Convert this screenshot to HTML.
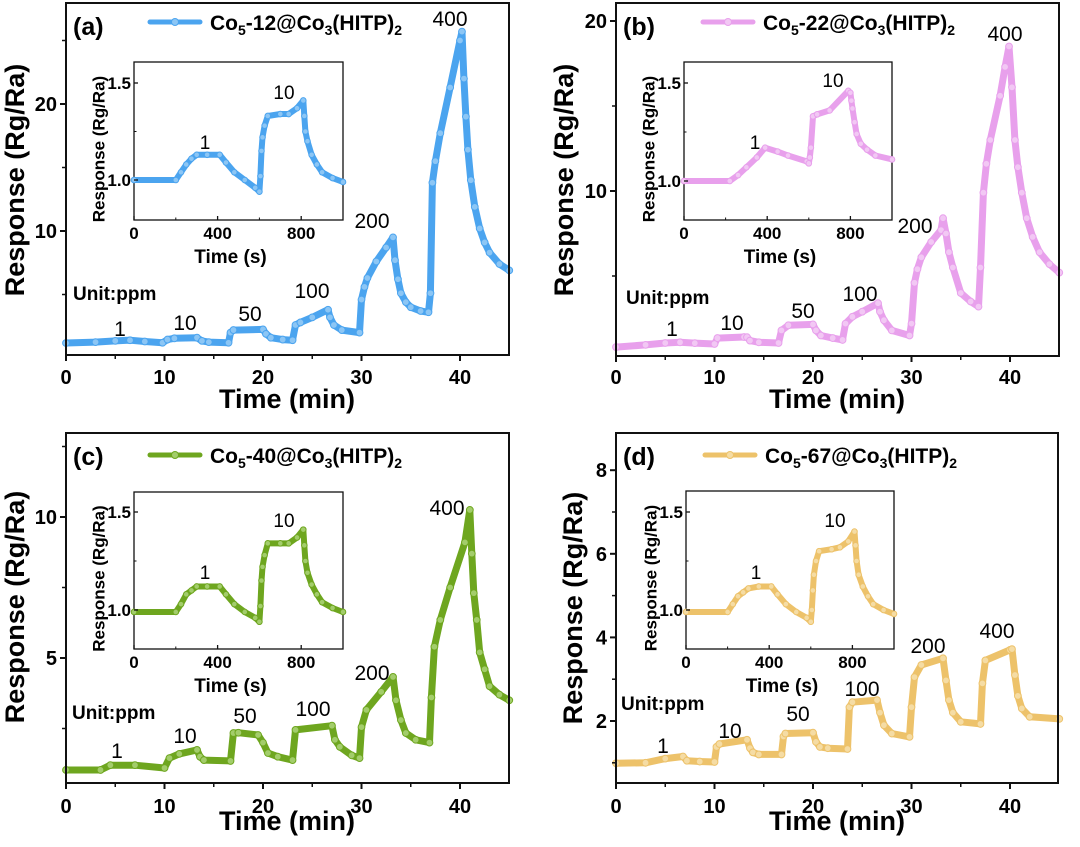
<!DOCTYPE html>
<html><head><meta charset="utf-8">
<style>
html,body{margin:0;padding:0;background:#fff;}
svg{display:block;font-family:"Liberation Sans",Arial,sans-serif;}
.b{font-weight:bold;}
</style></head>
<body>
<svg id="fig" width="1080" height="847" viewBox="0 0 1080 847" xmlns="http://www.w3.org/2000/svg"></svg>
<script>
// ===== Panel (a) data =====
const timeA = [0,3,5,6.5,8,9.8,10.3,11,13.3,13.8,14.5,16.5,16.7,17,20,20.3,20.8,22,23,23.3,23.8,25,26.6,26.8,27.2,28,29.8,30,30.3,30.6,31.5,32.5,33.2,33.4,33.7,34,34.5,35,36,36.8,37,37.2,37.5,38,39,40,40.2,40.4,40.6,40.8,41.1,41.5,42,42.5,43,44,45];
const respA = [1.18,1.25,1.35,1.4,1.3,1.2,1.45,1.55,1.6,1.35,1.25,1.2,2.0,2.2,2.25,1.9,1.6,1.45,1.4,2.6,2.8,3.2,3.8,3.2,2.6,2.2,2.0,4.6,5.6,6.3,7.6,8.7,9.5,7.7,6.2,5.1,4.4,4.0,3.7,3.6,5.1,13.8,15.5,17.7,21.3,25,25.7,22,19,16.4,14,11.9,10.2,9.1,8.3,7.4,6.9];
const insetTimeA = [0,200,225,250,275,300,350,410,440,480,530,580,600,605,610,615,625,640,700,740,780,810,815,820,830,850,875,900,950,1000];
const insetRespA = [1.0,1.0,1.04,1.08,1.11,1.13,1.13,1.13,1.09,1.04,1.0,0.96,0.94,1.02,1.15,1.22,1.28,1.33,1.34,1.34,1.37,1.41,1.33,1.25,1.2,1.13,1.08,1.04,1.01,0.99];
// ===== Panel (b) data =====
const timeB = [0,3,5,6.5,8,10,10.3,13,13.3,13.6,14.5,16.5,16.8,17.5,20,20.3,20.8,22,23,23.3,24,25,26.6,26.8,27.2,28,29.8,30,30.3,30.6,31,32,33,33.2,33.5,33.8,34.2,35,36,36.8,37,37.3,37.6,38,39,39.5,39.9,40.2,40.5,40.8,41.2,41.7,42.3,43,44,45];
const respB = [0.82,0.95,1.06,1.1,1.05,1.0,1.35,1.41,1.4,1.2,1.1,1.06,1.8,2.1,2.15,1.8,1.5,1.35,1.24,2.2,2.6,2.9,3.4,2.9,2.4,1.8,1.5,2.2,4.6,5.4,6.1,7.0,7.7,8.4,7.5,6.4,5.5,4.0,3.5,3.2,5.5,9.9,11.6,13,15.6,17.3,18.5,16.1,13,11.4,9.9,8.4,7.3,6.4,5.7,5.2];
const insetTimeB = [0,220,260,300,350,390,450,500,590,600,605,610,620,640,700,790,800,805,810,820,830,850,880,920,1000];
const insetRespB = [1.0,1.0,1.03,1.07,1.12,1.17,1.15,1.13,1.1,1.09,1.12,1.17,1.33,1.34,1.36,1.46,1.45,1.41,1.37,1.3,1.24,1.19,1.16,1.13,1.11];
// ===== Panel (c) data =====
const timeC = [0,3.5,4.5,7,10,10.5,11.5,13.3,13.6,14,16.7,17,17.5,19.5,20,20.5,21.5,23,23.3,27,27.3,27.8,29,29.8,30,30.5,32,33.2,33.5,34,34.5,35.5,36.9,37.1,37.4,38,39,40.5,41,41.2,41.4,41.7,42,42.5,43,44,45];
const respC = [1.03,1.03,1.2,1.2,1.1,1.45,1.6,1.74,1.5,1.38,1.35,2.34,2.35,2.27,2.0,1.63,1.5,1.38,2.45,2.6,2.1,1.85,1.55,1.45,2.55,3.16,3.8,4.33,3.5,2.8,2.34,2.1,2.0,3.6,5.4,6.35,7.5,9.1,10.25,8.7,7.3,6.35,5.2,4.6,4.0,3.7,3.5];
const insetTimeC = [0,200,225,250,275,300,350,410,440,480,530,580,600,605,610,615,625,640,700,740,780,810,815,820,830,850,875,900,950,1000];
const insetRespC = [0.99,0.99,1.03,1.08,1.1,1.12,1.12,1.12,1.08,1.03,0.99,0.96,0.94,1.02,1.15,1.22,1.28,1.34,1.34,1.34,1.37,1.41,1.33,1.25,1.19,1.13,1.08,1.04,1.01,0.99];
// ===== Panel (d) data =====
const timeD = [0,3,5,6.8,7.2,8.5,10,10.2,10.5,13.3,13.6,13.9,14.5,16.8,17,17.2,20,20.3,20.7,21.5,23.5,23.7,24,26.5,26.8,27.2,28,29.8,30,30.3,31,33.2,33.5,33.8,34.2,35,37,37.2,37.5,40,40.2,40.5,40.8,41.2,42,45];
const respD = [0.99,1.0,1.1,1.15,1.05,1.03,1.02,1.38,1.45,1.55,1.35,1.25,1.2,1.2,1.63,1.7,1.72,1.5,1.38,1.35,1.33,2.33,2.45,2.5,2.2,1.9,1.7,1.62,2.33,3.05,3.34,3.5,2.97,2.5,2.2,1.98,1.93,2.9,3.45,3.7,3.72,3.1,2.6,2.3,2.1,2.05];
const insetTimeD = [0,200,225,250,275,300,350,410,440,480,530,580,600,605,610,615,625,640,700,740,780,810,815,820,830,850,875,900,950,1000];
const insetRespD = [0.99,0.99,1.03,1.07,1.09,1.11,1.12,1.12,1.08,1.03,0.99,0.96,0.94,1.0,1.1,1.18,1.25,1.3,1.31,1.32,1.35,1.4,1.33,1.25,1.18,1.12,1.07,1.03,1.0,0.98];
// ===== Labels =====
const concLabels = ["1","10","50","100","200","400"];
const insetLabels = ["1","10"];
const mainXTicks = [0,10,20,30,40];
const insetXTicks = [0,400,800];
const insetYTicks = [1.0,1.5];

const NS = "http://www.w3.org/2000/svg";
const svg = document.getElementById("fig");
function el(tag, attrs, parent, text){
  const e = document.createElementNS(NS, tag);
  for (const k in attrs) e.setAttribute(k, attrs[k]);
  if (text !== undefined) e.textContent = text;
  (parent||svg).appendChild(e);
  return e;
}

const panels = [
  {id:"a", color:"#4ba4ef", light:"#8cc6f5", name:"12", t:timeA, r:respA, it:insetTimeA, ir:insetRespA,
   L:66,R:509,T:3,B:355, x0:66,xk:9.85, yv0:358, yk:12.7, yTicks:[10,20], yMinor:[5,15,25],
   ins:{L:134,R:343,T:62,B:220, y1:180, yk:194},
   conc:[[120,328],[185,322],[250,313],[312,290],[372,220],[450,18]],
   iconc:[[205,142],[284,92]], unit:[73,300], leg:[150,22],
   yTitle:[17,180], xTitle:[287,398], tickY:377},
  {id:"b", color:"#e8a0ec", light:"#f2c8f4", name:"22", t:timeB, r:respB, it:insetTimeB, ir:insetRespB,
   L:616,R:1059,T:3,B:356, x0:616,xk:9.85, yv0:361, yk:17, yTicks:[10,20], yMinor:[5,15],
   ins:{L:684,R:892,T:62,B:220, y1:181, yk:196},
   conc:[[672,328],[732,322],[803,310],[860,293],[915,225],[1005,33]],
   iconc:[[755,142],[833,80]], unit:[626,304], leg:[703,22],
   yTitle:[566,180], xTitle:[837,398], tickY:377},
  {id:"c", color:"#6ea61f", light:"#a3cd6b", name:"40", t:timeC, r:respC, it:insetTimeC, ir:insetRespC,
   L:66,R:509,T:433,B:783, x0:66,xk:9.85, yv0:799, yk:28.2, yTicks:[5,10], yMinor:[2.5,7.5,12.5],
   ins:{L:134,R:343,T:492,B:649, y1:610, yk:196},
   conc:[[117,750],[185,735],[245,715],[313,708],[372,672],[447,507]],
   iconc:[[205,572],[284,520]], unit:[72,719], leg:[150,455],
   yTitle:[17,607], xTitle:[287,820], tickY:806},
  {id:"d", color:"#edc26a", light:"#f5dca4", name:"67", t:timeD, r:respD, it:insetTimeD, ir:insetRespD,
   L:616,R:1058,T:433,B:783, x0:616,xk:9.85, yv0:804.6, yk:41.8, yTicks:[2,4,6,8], yMinor:[1,3,5,7],
   ins:{L:686,R:894,T:491,B:649, y1:610, yk:196},
   conc:[[663,745],[730,730],[798,713],[862,688],[928,645],[997,630]],
   iconc:[[756,572],[835,520]], unit:[621,710], leg:[705,455],
   yTitle:[575,608], xTitle:[837,820], tickY:806}
];

panels.forEach(p => {
  const g = el("g", {});
  
  
  const X = v => p.x0 + v * p.xk;
  const Y = v => p.yv0 - v * p.yk;
  const sg = el("g", {}, g);
  
  
  const pts = p.t.map((t,i) => X(t).toFixed(1) + "," + Y(p.r[i]).toFixed(1)).join(" ");
  el("polyline", {points:pts, fill:"none", stroke:p.color, "stroke-width":7, "stroke-linejoin":"round", "stroke-linecap":"round"}, sg);
  p.t.forEach((t,i) => {
    const c = el("circle", {cx:X(t), cy:Y(p.r[i]), r:3.4, fill:p.light, stroke:p.color, "stroke-width":1}, sg);
    
    
  });
  const fr = el("rect", {x:p.L, y:p.T, width:p.R-p.L, height:p.B-p.T, fill:"none", stroke:"#111", "stroke-width":2}, g);
  
  
  mainXTicks.forEach(v => {
    el("line", {x1:X(v), x2:X(v), y1:p.B, y2:p.B+6, stroke:"#111", "stroke-width":2}, g);
    const tl = el("text", {x:X(v), y:p.tickY+7, "text-anchor":"middle", "font-size":20, class:"b"}, g, String(v));
    
    
  });
  [5,15,25,35].forEach(v => el("line", {x1:X(v), x2:X(v), y1:p.B, y2:p.B+4, stroke:"#111", "stroke-width":1.5}, g));
  p.yTicks.forEach(v => {
    el("line", {x1:p.L-6, x2:p.L, y1:Y(v), y2:Y(v), stroke:"#111", "stroke-width":2}, g);
    const tl = el("text", {x:p.L-9, y:Y(v)+7, "text-anchor":"end", "font-size":20, class:"b"}, g, String(v));
    
    
  });
  p.yMinor.forEach(v => { if (Y(v) > p.T && Y(v) < p.B) el("line", {x1:p.L-4, x2:p.L, y1:Y(v), y2:Y(v), stroke:"#111", "stroke-width":1.5}, g); });
  const yt = el("text", {x:p.yTitle[0], y:p.yTitle[1], "text-anchor":"middle", "font-size":27, class:"b", transform:`rotate(-90 ${p.yTitle[0]} ${p.yTitle[1]})`, "dominant-baseline":"middle"}, g, "Response (Rg/Ra)");
  
  
  const xt = el("text", {x:p.xTitle[0], y:p.xTitle[1]+10, "text-anchor":"middle", "font-size":27, class:"b"}, g, "Time (min)");
  
  
  const pl = el("text", {x:p.L+7, y:p.T+32, "font-size":25, class:"b"}, g, "(" + p.id + ")");
  
  
  const lg = el("g", {}, g);
  
  
  el("line", {x1:p.leg[0], x2:p.leg[0]+50, y1:p.leg[1], y2:p.leg[1], stroke:p.color, "stroke-width":5, "stroke-linecap":"round"}, lg);
  el("circle", {cx:p.leg[0]+25, cy:p.leg[1], r:3.5, fill:p.light, stroke:p.color}, lg);
  const lt = el("text", {x:p.leg[0]+60, y:p.leg[1]+8, "font-size":21, class:"b"}, lg);
  lt.innerHTML = `Co<tspan font-size="14" dy="5">5</tspan><tspan dy="-5">-${p.name}@Co</tspan><tspan font-size="14" dy="5">3</tspan><tspan dy="-5">(HITP)</tspan><tspan font-size="14" dy="5">2</tspan>`;
  p.conc.forEach((c,i) => {
    const t = el("text", {x:c[0], y:c[1]+8, "text-anchor":"middle", "font-size":21}, g, concLabels[i]);
    
    
  });
  const u = el("text", {x:p.unit[0], y:p.unit[1], "font-size":19, class:"b"}, g, "Unit:ppm");
  
  

  const I = p.ins;
  const ig = el("g", {}, g);
  
  
  const IX = v => I.L + v * (I.R - I.L) / 1000;
  const IY = v => I.y1 - (v - 1) * I.yk;
  el("rect", {x:I.L, y:I.T, width:I.R-I.L, height:I.B-I.T, fill:"#fff", stroke:"#111", "stroke-width":1.3}, ig);
  const ipts = p.it.map((t,i) => IX(t).toFixed(1) + "," + IY(p.ir[i]).toFixed(1)).join(" ");
  el("polyline", {points:ipts, fill:"none", stroke:p.color, "stroke-width":6, "stroke-linejoin":"round", "stroke-linecap":"round"}, ig);
  p.it.forEach((t,i) => {
    const c = el("circle", {cx:IX(t), cy:IY(p.ir[i]), r:2.8, fill:p.light, stroke:p.color, "stroke-width":1}, ig);
    
    
  });
  insetXTicks.forEach(v => {
    el("line", {x1:IX(v), x2:IX(v), y1:I.B, y2:I.B-4, stroke:"#111", "stroke-width":1.3}, ig);
    el("text", {x:IX(v), y:I.B+19, "text-anchor":"middle", "font-size":17, class:"b"}, ig, String(v));
  });
  [200,600].forEach(v => el("line", {x1:IX(v), x2:IX(v), y1:I.B, y2:I.B-2.5, stroke:"#111"}, ig));
  insetYTicks.forEach(v => {
    el("line", {x1:I.L, x2:I.L+4, y1:IY(v), y2:IY(v), stroke:"#111", "stroke-width":1.3}, ig);
    el("text", {x:I.L-3, y:IY(v)+6, "text-anchor":"end", "font-size":17, class:"b"}, ig, v.toFixed(1));
  });
  el("line", {x1:I.L, x2:I.L+2.5, y1:IY(1.25), y2:IY(1.25), stroke:"#111"}, ig);
  el("text", {x:(I.L+I.R)/2 - 8, y:I.B+43, "text-anchor":"middle", "font-size":19, class:"b"}, ig, "Time (s)");
  const iyx = I.L - 34, iyy = (I.T + I.B) / 2 + 8;
  el("text", {x:iyx, y:iyy, "text-anchor":"middle", "font-size":17, class:"b", transform:`rotate(-90 ${iyx} ${iyy})`, "dominant-baseline":"middle"}, ig, "Response (Rg/Ra)");
  p.iconc.forEach((c,i) => {
    const t = el("text", {x:c[0], y:c[1]+7, "text-anchor":"middle", "font-size":19}, ig, insetLabels[i]);
    
    
  });
});
</script>
</body></html>
